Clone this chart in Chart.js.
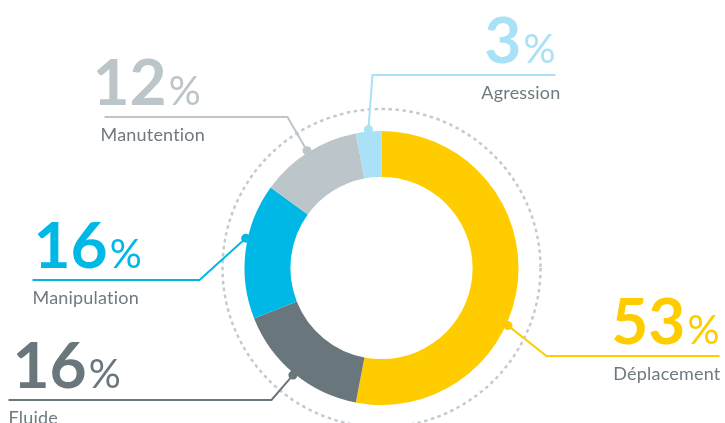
<!DOCTYPE html>
<html>
<head>
<meta charset="utf-8">
<script src="https://cdn.jsdelivr.net/npm/chart.js@4.4.0/dist/chart.umd.min.js"></script>
<style>
  html, body { margin: 0; padding: 0; background: #fff; }
  #wrap { width: 725px; height: 423px; position: relative; }
</style>
</head>
<body>
<div id="wrap"><canvas id="myChart" width="725" height="423"></canvas></div>
<script>
const categories = ['Déplacement', 'Fluide', 'Manipulation', 'Manutention', 'Agression'];
const shares = [53, 16, 16, 12, 3];
const colors = ['#FFCC00', '#69777C', '#00B8E6', '#BCC5CA', '#A9E1F6'];

// where each callout sits, relative to the doughnut centre
const callouts = [
  { frac: 0.6,  elbow: [165, 88],    endX: 338,  align: 'right', numX: 338,  textX: 339 },
  { frac: 0.5,  elbow: [-110, 132],  endX: -373, align: 'left',  numX: -369, textX: -373 },
  { frac: 0.59, elbow: [-182, 12],   endX: -349, align: 'left',  numX: -348, textX: -349 },
  { frac: 0.5,  elbow: [-94, -151],  endX: -277, align: 'left',  numX: -289, textX: -281 },
  { frac: 0.5,  elbow: [-9, -193],   endX: 174,  align: 'right', numX: 174,  textX: 179 }
];

const calloutPlugin = {
  id: 'callouts',
  beforeDatasetsDraw(chart) {
    const arc = chart.getDatasetMeta(0).data[0];
    const c = chart.ctx;
    c.save();
    c.strokeStyle = '#C3CBCF';
    c.lineWidth = 2.5;
    c.setLineDash([3.5, 3.5]);
    c.beginPath();
    c.arc(arc.x, arc.y, arc.outerRadius + 22, 0, Math.PI * 2);
    c.stroke();
    c.restore();
  },
  afterDatasetsDraw(chart) {
    const c = chart.ctx;
    const arcs = chart.getDatasetMeta(0).data;
    arcs.forEach((arc, i) => {
      const cfg = callouts[i];
      const cx = arc.x, cy = arc.y;
      const a = arc.startAngle + cfg.frac * (arc.endAngle - arc.startAngle);
      const r = arc.outerRadius + 2;
      const dx = cx + Math.cos(a) * r, dy = cy + Math.sin(a) * r;
      const ex = cx + cfg.elbow[0], ey = cy + cfg.elbow[1];
      const lx = cx + cfg.endX;
      c.save();
      c.strokeStyle = colors[i];
      c.lineWidth = 2;
      c.beginPath();
      c.moveTo(dx, dy);
      c.lineTo(ex, ey);
      c.lineTo(lx, ey);
      c.stroke();
      c.fillStyle = colors[i];
      c.beginPath();
      c.arc(dx, dy, 4.5, 0, Math.PI * 2);
      c.fill();

      // big percentage
      const num = String(shares[i]);
      c.font = '700 64px Lato';
      const wNum = c.measureText(num).width;
      c.font = '400 40px Lato';
      const wPct = c.measureText('%').width;
      const gap = 2;
      let nx = cx + cfg.numX;
      if (cfg.align === 'right') nx -= wNum + gap + wPct;
      const ny = ey - 12;
      c.textAlign = 'left';
      c.textBaseline = 'alphabetic';
      c.fillStyle = colors[i];
      c.font = '700 64px Lato';
      c.fillText(num, nx, ny);
      c.font = '400 40px Lato';
      c.fillText('%', nx + wNum + gap, ny);

      // category name
      c.font = '400 18px Lato';
      c.letterSpacing = '0.2px';
      c.fillStyle = '#6E7A7F';
      c.textAlign = cfg.align;
      c.fillText(categories[i], cx + cfg.textX, ey + 24);
      c.restore();
    });
  }
};

const ctx = document.getElementById('myChart');
const myChart = new Chart(ctx, {
  type: 'doughnut',
  data: {
    labels: categories,
    datasets: [{
      data: shares,
      backgroundColor: colors,
      borderWidth: 0
    }]
  },
  options: {
    responsive: false,
    animation: false,
    cutout: '66.5%',
    layout: { padding: { top: 131, bottom: 18, left: 244, right: 206 } },
    plugins: {
      legend: { display: false },
      tooltip: { enabled: false }
    }
  },
  plugins: [calloutPlugin]
});
</script>
</body>
</html>
